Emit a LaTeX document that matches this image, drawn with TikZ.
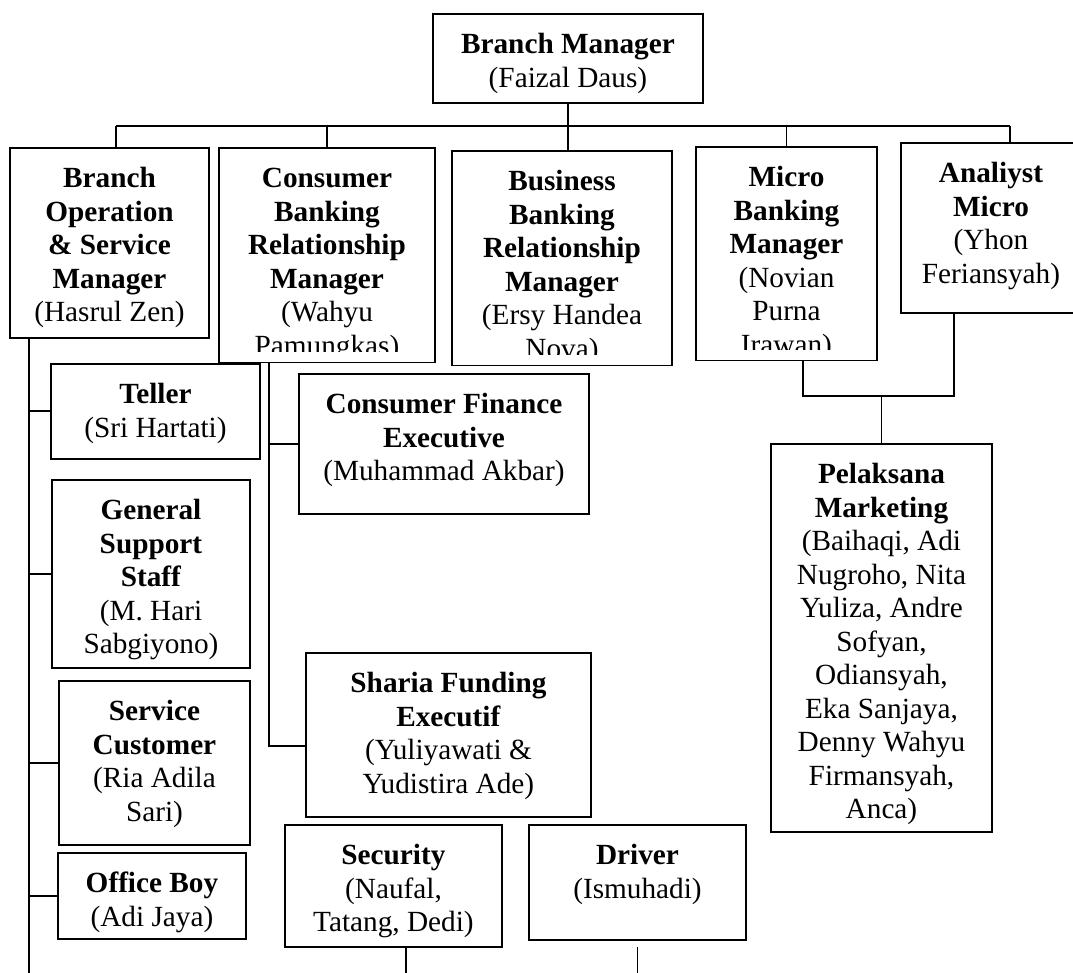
\documentclass[tikz,border=0pt]{standalone}
\usepackage{fontspec}
\setmainfont{Liberation Serif}
\usepackage{tikz}
\usetikzlibrary{positioning}
% one pixel of the chart
\newcommand\px[1]{\dimexpr#1pt*41/100\relax}
% top aligned text of a box: width, height, lines
\newcommand\boxtxt[3]{\parbox[c][\px{#2}][t]{\px{#1}}{\centering\rule{0pt}{16.2pt}#3}}
\tikzset{box/.style = {draw, line width=0.8pt, inner sep=0pt, anchor=north west,
                       font=\fontsize{12}{13.75}\selectfont}}
\tikzset{link/.style = {line width=0.8pt}}

\begin{document}
\begin{tikzpicture}[x=0.41pt, y=-0.41pt]
    \clip (0,0) rectangle (1073,973);
    \node [box] (bm) at (432,13) {\boxtxt{270}{89}{\textbf{Branch Manager}\\(Faizal Daus)}};
    \node [box] (bosm) at (9,147) {\boxtxt{199}{190}{\textbf{Branch\\Operation\\\& Service\\Manager}\\(Hasrul Zen)}};
    \node [box] (cbrm) at (218,147) {\boxtxt{216}{214}{\textbf{Consumer\\Banking\\Relationship\\Manager}\\(Wahyu\\Pamungkas)}};
    \node [box] (bbrm) at (451,150) {\boxtxt{220}{214}{\textbf{Business\\Banking\\Relationship\\Manager}\\(Ersy Handea\\Nova)}};
    \node [box] (mbm) at (695,146) {\boxtxt{181}{213}{\textbf{Micro\\Banking\\Manager}\\(Novian\\Purna\\Irawan)}};
    \node [box] (am) at (900,142) {\boxtxt{180}{170}{\textbf{Analiyst\\Micro}\\(Yhon\\Feriansyah)}};
    % the last line of three boxes is cut off
    \foreach \n in {cbrm, bbrm, mbm}
      \fill [white] ([shift={(1.5,-11)}]\n.south west) rectangle ([shift={(-1.5,-1.2)}]\n.south east);

    \node [box] (teller) at (50,363) {\boxtxt{209}{95}{\textbf{Teller}\\(Sri Hartati)}};
    \node [box] (gss) at (51,479) {\boxtxt{198}{188}{\textbf{General\\Support\\Staff}\\(M. Hari\\Sabgiyono)}};
    \node [box] (sc) at (58,680) {\boxtxt{191}{164}{\textbf{Service\\Customer}\\(Ria Adila\\Sari)}};
    \node [box] (ob) at (57,852) {\boxtxt{188}{86}{\textbf{Office Boy}\\(Adi Jaya)}};
    \node [box] (cfe) at (298,373) {\boxtxt{290}{140}{\textbf{Consumer Finance\\Executive}\\(Muhammad Akbar)}};
    \node [box] (sfe) at (305,652) {\boxtxt{285}{164}{\textbf{Sharia Funding\\Executif}\\(Yuliyawati \&\\Yudistira Ade)}};
    \node [box] (sec) at (284,824) {\boxtxt{217}{122}{\textbf{Security}\\(Naufal,\\Tatang, Dedi)}};
    \node [box] (drv) at (528,824) {\boxtxt{217}{115}{\textbf{Driver}\\(Ismuhadi)}};
    \node [box] (pm) at (770,443) {\boxtxt{221}{388}{\textbf{Pelaksana\\Marketing}\\(Baihaqi, Adi\\Nugroho, Nita\\Yuliza, Andre\\Sofyan,\\Odiansyah,\\Eka Sanjaya,\\Denny Wahyu\\Firmansyah,\\Anca)}};

    \coordinate (busl) at (116,126);
    \coordinate (busr) at (1010,126);
    \coordinate (lbot) at (29,973);
    \coordinate (ctrunk) at (269,746);
    \coordinate (mjl) at (803,396);
    \coordinate (mjr) at (954,396);
    \coordinate (secb) at (406,973);

    % top level
    \draw [link] (busl) -- (busr);
    \draw [link] (bm.south) -- (bm.south |- bbrm.north);
    \draw [link] (busl) -- (busl |- bosm.north);
    \draw [link] (cbrm.north) -- (cbrm.north |- busl);
    \draw [link] (mbm.north) -- (mbm.north |- busl);
    \draw [link] (busr) -- (busr |- am.north);

    % operation and service
    \draw [link] (bosm.south -| lbot) -- (lbot);
    \draw [link] (teller.west -| lbot) -- (teller.west);
    \draw [link] (gss.west -| lbot) -- (gss.west);
    \draw [link] (sc.west -| lbot) -- (sc.west);
    \draw [link] (ob.west -| lbot) -- (ob.west);

    % consumer banking
    \draw [link] (cbrm.south -| ctrunk) -- (ctrunk) -- (ctrunk -| sfe.west);
    \draw [link] (cfe.west -| ctrunk) -- (cfe.west);

    % micro banking
    \draw [link] (mbm.south -| mjl) -- (mjl) -- (mjr) -- (am.south -| mjr);
    \draw [link] (pm.north) -- (pm.north |- mjl);

    \draw [link] (sec.south -| secb) -- (secb);
    \draw [link, shorten <=2.4pt] (drv.south) -- (drv.south |- lbot);
  \end{tikzpicture}
\end{document}
